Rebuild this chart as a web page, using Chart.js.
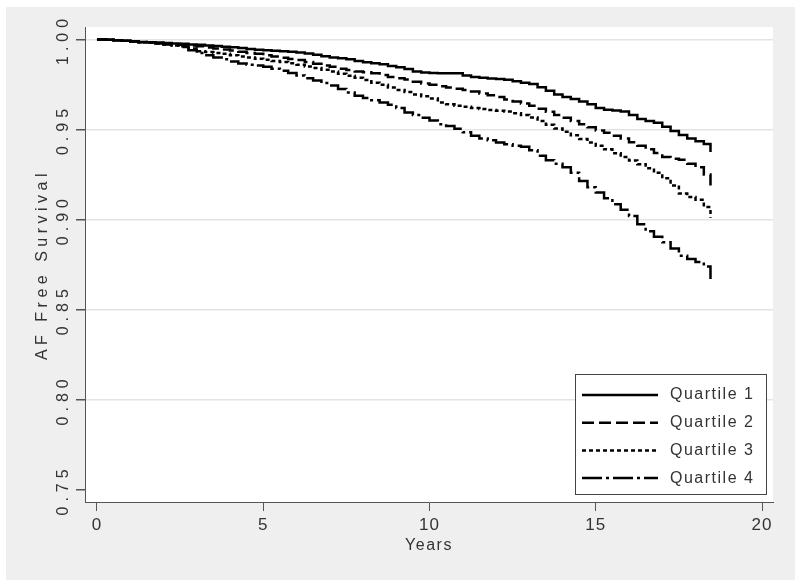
<!DOCTYPE html>
<html>
<head>
<meta charset="utf-8">
<script src="https://cdn.jsdelivr.net/npm/chart.js@4.4.1/dist/chart.umd.min.js"></script>
<style>
  body { margin: 0; background: #ffffff; }
  canvas { display: block; }
</style>
</head>
<body>
<canvas id="km-chart" width="800" height="586"></canvas>
<script>
// follow-up time in years
const years = [0, 0.25, 0.5, 0.75, 1, 1.25, 1.5, 1.75, 2, 2.25, 2.5, 2.75, 3, 3.25, 3.5, 3.75,
  4, 4.25, 4.5, 4.75, 5, 5.25, 5.5, 5.75, 6, 6.25, 6.5, 6.75, 7, 7.25, 7.5, 7.75,
  8, 8.25, 8.5, 8.75, 9, 9.25, 9.5, 9.75, 10, 10.25, 10.5, 10.75, 11, 11.25, 11.5, 11.75,
  12, 12.25, 12.5, 12.75, 13, 13.25, 13.5, 13.75, 14, 14.25, 14.5, 14.75, 15, 15.25, 15.5, 15.75,
  16, 16.25, 16.5, 16.75, 17, 17.25, 17.5, 17.75, 18, 18.25, 18.45];

const quartile1 = [1.000, 0.9998, 0.9996, 0.9993, 0.9990, 0.9986, 0.9985, 0.9983, 0.9980, 0.9978, 0.9976, 0.9972, 0.9970, 0.9966, 0.9963, 0.9960,
  0.9957, 0.9953, 0.9947, 0.9943, 0.9940, 0.9937, 0.9935, 0.9932, 0.9928, 0.9922, 0.9915, 0.9907, 0.9900, 0.9895, 0.9890, 0.9880,
  0.9874, 0.9868, 0.9862, 0.9852, 0.9845, 0.9836, 0.9822, 0.9816, 0.9814, 0.9813, 0.9813, 0.9813, 0.9800, 0.9792, 0.9788, 0.9783,
  0.9780, 0.9776, 0.9768, 0.9760, 0.9752, 0.9735, 0.9715, 0.9695, 0.9680, 0.9670, 0.9656, 0.9640, 0.9620, 0.9610, 0.9605, 0.9600,
  0.9580, 0.9558, 0.9548, 0.9537, 0.9515, 0.9492, 0.9470, 0.9450, 0.9435, 0.9420, 0.9375];
const quartile2 = [1.000, 0.9998, 0.9996, 0.9993, 0.9990, 0.9986, 0.9984, 0.9980, 0.9977, 0.9973, 0.9970, 0.9966, 0.9962, 0.9955, 0.9950, 0.9944,
  0.9938, 0.9932, 0.9925, 0.9920, 0.9912, 0.9905, 0.9898, 0.9892, 0.9886, 0.9875, 0.9865, 0.9855, 0.9848, 0.9838, 0.9830, 0.9822,
  0.9818, 0.9813, 0.9803, 0.9792, 0.9785, 0.9777, 0.9765, 0.9755, 0.9748, 0.9740, 0.9733, 0.9726, 0.9720, 0.9711, 0.9700, 0.9690,
  0.9680, 0.9667, 0.9655, 0.9645, 0.9632, 0.9615, 0.9598, 0.9580, 0.9565, 0.9548, 0.9530, 0.9512, 0.9495, 0.9482, 0.9466, 0.9450,
  0.9430, 0.9410, 0.9390, 0.9370, 0.9348, 0.9338, 0.9332, 0.9310, 0.9290, 0.9250, 0.9190];
const quartile3 = [1.000, 0.9998, 0.9996, 0.9993, 0.9989, 0.9985, 0.9981, 0.9977, 0.9972, 0.9967, 0.9962, 0.9950, 0.9935, 0.9930, 0.9925, 0.9920,
  0.9912, 0.9905, 0.9900, 0.9893, 0.9887, 0.9880, 0.9875, 0.9868, 0.9860, 0.9850, 0.9842, 0.9832, 0.9822, 0.9810, 0.9798, 0.9787,
  0.9775, 0.9760, 0.9748, 0.9733, 0.9720, 0.9708, 0.9695, 0.9685, 0.9672, 0.9650, 0.9640, 0.9632, 0.9626, 0.9620, 0.9614, 0.9608,
  0.9604, 0.9600, 0.9590, 0.9580, 0.9567, 0.9548, 0.9526, 0.9506, 0.9488, 0.9468, 0.9448, 0.9428, 0.9410, 0.9390, 0.9368, 0.9348,
  0.9328, 0.9308, 0.9285, 0.9260, 0.9230, 0.9190, 0.9145, 0.9125, 0.9111, 0.9070, 0.9010];
const quartile4 = [1.000, 0.9998, 0.9996, 0.9993, 0.9989, 0.9985, 0.9981, 0.9977, 0.9972, 0.9966, 0.9958, 0.9940, 0.9925, 0.9912, 0.9900, 0.9890,
  0.9878, 0.9866, 0.9860, 0.9855, 0.9848, 0.9838, 0.9826, 0.9814, 0.9800, 0.9785, 0.9772, 0.9758, 0.9745, 0.9725, 0.9705, 0.9688,
  0.9675, 0.9662, 0.9650, 0.9638, 0.9620, 0.9595, 0.9580, 0.9565, 0.9550, 0.9530, 0.9520, 0.9505, 0.9485, 0.9465, 0.9450, 0.9440,
  0.9428, 0.9418, 0.9410, 0.9405, 0.9385, 0.9355, 0.9330, 0.9310, 0.9290, 0.9260, 0.9215, 0.9180, 0.9150, 0.9118, 0.9085, 0.9055,
  0.9020, 0.8975, 0.8935, 0.8905, 0.8875, 0.8840, 0.8800, 0.8782, 0.8765, 0.8740, 0.8670];

const seriesLabels = ['Quartile 1', 'Quartile 2', 'Quartile 3', 'Quartile 4'];
const xTicks = [0, 5, 10, 15, 20];
const yTicks = [0.75, 0.80, 0.85, 0.90, 0.95, 1.00];

const FONT = "'Liberation Sans', Arial, sans-serif";
const TEXT = '#333333';
const AXIS = '#555555';

const dashes = [[], [12, 5], [4, 3], [20, 4, 3, 4]];
const allSeries = [quartile1, quartile2, quartile3, quartile4];

const datasets = allSeries.map((vals, i) => ({
  label: seriesLabels[i],
  data: years.map((t, j) => ({x: t, y: vals[j]})),
  borderColor: '#000000',
  borderWidth: 2.5,
  borderDash: dashes[i],
  pointRadius: 0,
  stepped: true,
  fill: false
}));

// letter spacing per scale: [ticks, title]
const spacing = {x: ['1px', '1.5px'], y: ['5px', '4.5px']};

const backgroundPlugin = {
  id: 'stataBackground',
  beforeDraw(chart) {
    const ctx = chart.ctx;
    const area = chart.chartArea;
    ctx.save();
    ctx.fillStyle = '#ffffff';
    ctx.fillRect(0, 0, chart.width, chart.height);
    ctx.fillStyle = '#efefef';
    ctx.fillRect(6, 7, 789, 573);
    ctx.fillStyle = '#ffffff';
    ctx.fillRect(area.left, area.top, area.right - area.left, area.bottom - area.top);
    ctx.restore();

    Object.keys(spacing).forEach(id => {
      const s = chart.scales[id];
      if (s._spaced) return;
      s._spaced = true;
      const dl = s.drawLabels;
      const dt = s.drawTitle;
      s.drawLabels = function(a) {
        chart.ctx.letterSpacing = spacing[id][0];
        dl.call(this, a);
        chart.ctx.letterSpacing = '0px';
      };
      s.drawTitle = function(a) {
        chart.ctx.letterSpacing = spacing[id][1];
        dt.call(this, a);
        chart.ctx.letterSpacing = '0px';
      };
    });
  }
};

const legendPlugin = {
  id: 'boxLegend',
  afterDraw(chart) {
    const ctx = chart.ctx;
    const bx = 575, by = 374, bw = 191, bh = 120;
    ctx.save();
    ctx.fillStyle = '#ffffff';
    ctx.fillRect(bx, by, bw, bh);
    ctx.strokeStyle = '#444444';
    ctx.lineWidth = 1;
    ctx.strokeRect(bx + 0.5, by + 0.5, bw, bh);
    ctx.font = '16px ' + FONT;
    ctx.letterSpacing = '1.5px';
    ctx.textBaseline = 'middle';
    ctx.fillStyle = TEXT;
    chart.data.datasets.forEach((ds, i) => {
      const y = by + 21 + i * 27.7;
      ctx.beginPath();
      ctx.setLineDash(ds.borderDash);
      ctx.strokeStyle = ds.borderColor;
      ctx.lineWidth = ds.borderWidth;
      ctx.moveTo(582, y);
      ctx.lineTo(658, y);
      ctx.stroke();
      ctx.fillText(ds.label, 670, y);
    });
    ctx.restore();
  }
};

const ctx = document.getElementById('km-chart');
const chart = new Chart(ctx, {
  type: 'line',
  data: {datasets: datasets},
  plugins: [backgroundPlugin, legendPlugin],
  options: {
    responsive: false,
    animation: false,
    layout: {padding: {top: 27, right: 27, left: 0, bottom: 0}},
    plugins: {
      legend: {display: false},
      tooltip: {enabled: false}
    },
    scales: {
      x: {
        type: 'linear',
        min: -0.36,
        max: 20.33,
        afterBuildTicks: (s) => { s.ticks = xTicks.map(v => ({value: v})); },
        afterFit: (s) => { s.height = 84; },
        border: {display: true, color: AXIS, width: 1},
        grid: {drawOnChartArea: false, drawTicks: true, tickLength: 9, tickColor: AXIS},
        ticks: {
          color: TEXT,
          padding: 4,
          maxRotation: 0,
          font: {family: FONT, size: 17},
          callback: (v) => String(v)
        },
        title: {
          display: true,
          text: 'Years',
          color: TEXT,
          font: {family: FONT, size: 16},
          padding: {top: 0, bottom: 31}
        }
      },
      y: {
        type: 'linear',
        min: 0.7433,
        max: 1.0069,
        afterBuildTicks: (s) => { s.ticks = yTicks.map(v => ({value: v})); },
        afterFit: (s) => { s.width = 85; },
        border: {display: true, color: AXIS, width: 1},
        grid: {
          drawTicks: true,
          tickLength: 9,
          tickColor: AXIS,
          color: (c) => (c.tick && c.tick.value > 0.76 ? '#e3e3e3' : 'rgba(0,0,0,0)'),
          lineWidth: 1.5
        },
        ticks: {
          color: TEXT,
          minRotation: 90,
          maxRotation: 90,
          crossAlign: 'center',
          padding: -3,
          font: {family: FONT, size: 16},
          callback: (v) => Number(v).toFixed(2)
        },
        title: {
          display: true,
          text: 'AF Free Survival',
          color: TEXT,
          font: {family: FONT, size: 16},
          padding: {top: 33, bottom: 0}
        }
      }
    }
  }
});
</script>
</body>
</html>
